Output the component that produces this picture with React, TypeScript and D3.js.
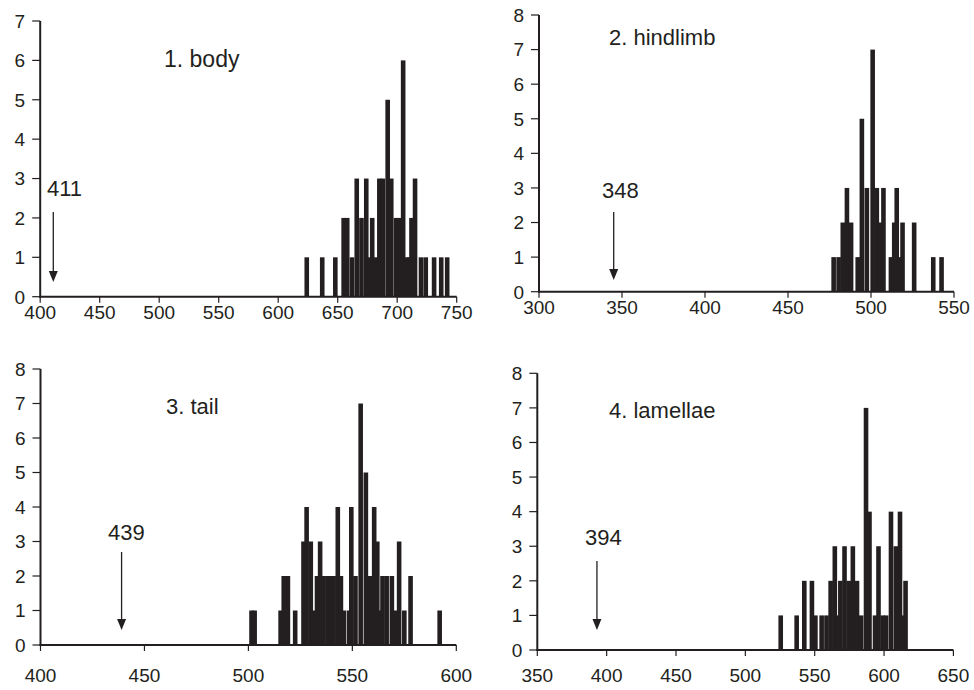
import React from 'react';
import * as d3 from 'd3';

const bodyValues = [624, 637, 648, 655, 658, 662, 666, 670, 674, 676, 679, 682, 685, 688, 692, 695, 699, 702, 705, 708, 710, 712, 715, 720, 724, 731, 737, 742];
const bodyCounts = [1, 1, 1, 2, 2, 1, 3, 2, 3, 1, 2, 1, 3, 3, 5, 3, 2, 2, 6, 1, 1, 2, 3, 1, 1, 1, 1, 1];

const hindlimbValues = [477.5, 480.5, 483, 485.5, 488, 492, 494.5, 497.5, 501, 503.5, 505.5, 507.5, 512, 514, 515.5, 517, 519, 526, 537.5, 542.5];
const hindlimbCounts = [1, 1, 2, 3, 2, 1, 5, 3, 7, 3, 2, 3, 1, 2, 3, 1, 2, 2, 1, 1];

const tailValues = [501.5, 503, 515.5, 517, 519, 522.5, 526.5, 528, 530, 531.5, 533, 534.5, 536, 538, 539.5, 541, 543, 544.5, 546, 548.5, 549.5, 551.5, 554, 556.5, 558.5, 560.5, 562, 563.5, 564.5, 566.5, 569, 570.5, 572.5, 575, 578, 592];
const tailCounts = [1, 1, 1, 2, 2, 1, 3, 4, 3, 1, 2, 3, 2, 2, 2, 2, 4, 2, 1, 1, 4, 2, 7, 5, 2, 4, 3, 1, 2, 2, 2, 1, 3, 1, 2, 1];

const lamellaeValues = [525.5, 537, 542.5, 548, 550.5, 555, 558.5, 561.5, 564.5, 566.5, 568.5, 571.5, 574.5, 577.5, 580.5, 583.5, 587, 589.5, 593.5, 596, 599, 601.5, 605, 608.5, 611.5, 613.5, 615.5];
const lamellaeCounts = [1, 1, 2, 2, 1, 1, 1, 2, 3, 1, 2, 3, 2, 3, 2, 1, 7, 4, 1, 3, 1, 1, 4, 3, 4, 1, 2];

const bodyTicks = [400, 450, 500, 550, 600, 650, 700, 750];
const hindlimbTicks = [300, 350, 400, 450, 500, 550];
const tailTicks = [400, 450, 500, 550, 600];
const lamellaeTicks = [350, 400, 450, 500, 550, 600, 650];

const titles = ['1. body', '2. hindlimb', '3. tail', '4. lamellae'];
const noteLabels = ['411', '348', '439', '394'];
const arrowValues = [411, 345, 439, 393];

const INK = '#231f20';
const FONT = '"Liberation Sans", Arial, Helvetica, sans-serif';
const BAR_W = 4.6;

const panels = [
  {
    values: bodyValues, counts: bodyCounts, ticks: bodyTicks, domain: [400, 750], yMax: 7,
    box: {left: 40.2, right: 456.7, top: 21, bottom: 296.7}, labelDy: 22,
    titleAt: [164, 67], titleSize: 23, noteAt: [47, 196], arrowY: [212, 282],
  },
  {
    values: hindlimbValues, counts: hindlimbCounts, ticks: hindlimbTicks, domain: [300, 550], yMax: 8,
    box: {left: 539, right: 954, top: 15, bottom: 291.7}, labelDy: 22,
    titleAt: [609, 45], titleSize: 22, noteAt: [602, 198], arrowY: [212, 280],
  },
  {
    values: tailValues, counts: tailCounts, ticks: tailTicks, domain: [400, 600], yMax: 8,
    box: {left: 40.5, right: 456.3, top: 369, bottom: 645}, labelDy: 37,
    titleAt: [166, 414], titleSize: 22, noteAt: [108, 540], arrowY: [552, 630],
  },
  {
    values: lamellaeValues, counts: lamellaeCounts, ticks: lamellaeTicks, domain: [350, 650], yMax: 8,
    box: {left: 537.3, right: 953.4, top: 373.3, bottom: 650}, labelDy: 32,
    titleAt: [609, 418], titleSize: 22, noteAt: [585, 545], arrowY: [561, 630],
  },
];

function Panel({cfg, idx}: {cfg: any; idx: number}) {
  const {box} = cfg;
  const x = d3.scaleLinear().domain(cfg.domain).range([box.left, box.right]);
  const y = d3.scaleLinear().domain([0, cfg.yMax]).range([box.bottom, box.top]);
  const yTicks = d3.range(0, cfg.yMax + 1);
  const ax = x(arrowValues[idx]);
  const [a0, a1] = cfg.arrowY;

  return (
    <g>
      {/* bars */}
      {cfg.values.map((v: number, i: number) => (
        <rect key={i} x={x(v) - BAR_W / 2} y={y(cfg.counts[i])} width={BAR_W}
          height={y(0) - y(cfg.counts[i])} fill={INK} />
      ))}

      {/* y axis */}
      <line x1={box.left} x2={box.left} y1={box.top} y2={box.bottom + 1} stroke={INK} strokeWidth={2} />
      {yTicks.map((t) => (
        <g key={t}>
          <line x1={box.left - 8} x2={box.left} y1={y(t)} y2={y(t)} stroke={INK} strokeWidth={1.2} />
          <text x={box.left - 15} y={y(t) + 6.8} textAnchor="end" fontSize={19} fill={INK}>{t}</text>
        </g>
      ))}

      {/* x axis */}
      <line x1={box.left - 1} x2={box.right} y1={box.bottom} y2={box.bottom} stroke={INK} strokeWidth={2} />
      {cfg.ticks.map((t: number) => (
        <g key={t}>
          <line x1={x(t)} x2={x(t)} y1={box.bottom} y2={box.bottom + 6} stroke={INK} strokeWidth={1.2} />
          <text x={x(t)} y={box.bottom + cfg.labelDy} textAnchor="middle" fontSize={19} fill={INK}>{t}</text>
        </g>
      ))}

      <text x={cfg.titleAt[0]} y={cfg.titleAt[1]} fontSize={cfg.titleSize} fill={INK}>{titles[idx]}</text>

      {/* reference value marker */}
      <text x={cfg.noteAt[0]} y={cfg.noteAt[1]} fontSize={22} fill={INK}>{noteLabels[idx]}</text>
      <line x1={ax} x2={ax} y1={a0} y2={a1 - 8} stroke={INK} strokeWidth={1.3} />
      <path d={`M${ax - 4.5},${a1 - 11}L${ax + 4.5},${a1 - 11}L${ax},${a1}Z`} fill={INK} />
    </g>
  );
}

export default function App() {
  return (
    <div style={{position: 'absolute', left: 0, top: 0}}>
      <svg width={974} height={690} style={{display: 'block', fontFamily: FONT, background: '#fff'}}>
        {panels.map((p, i) => <Panel key={i} cfg={p} idx={i} />)}
      </svg>
    </div>
  );
}
